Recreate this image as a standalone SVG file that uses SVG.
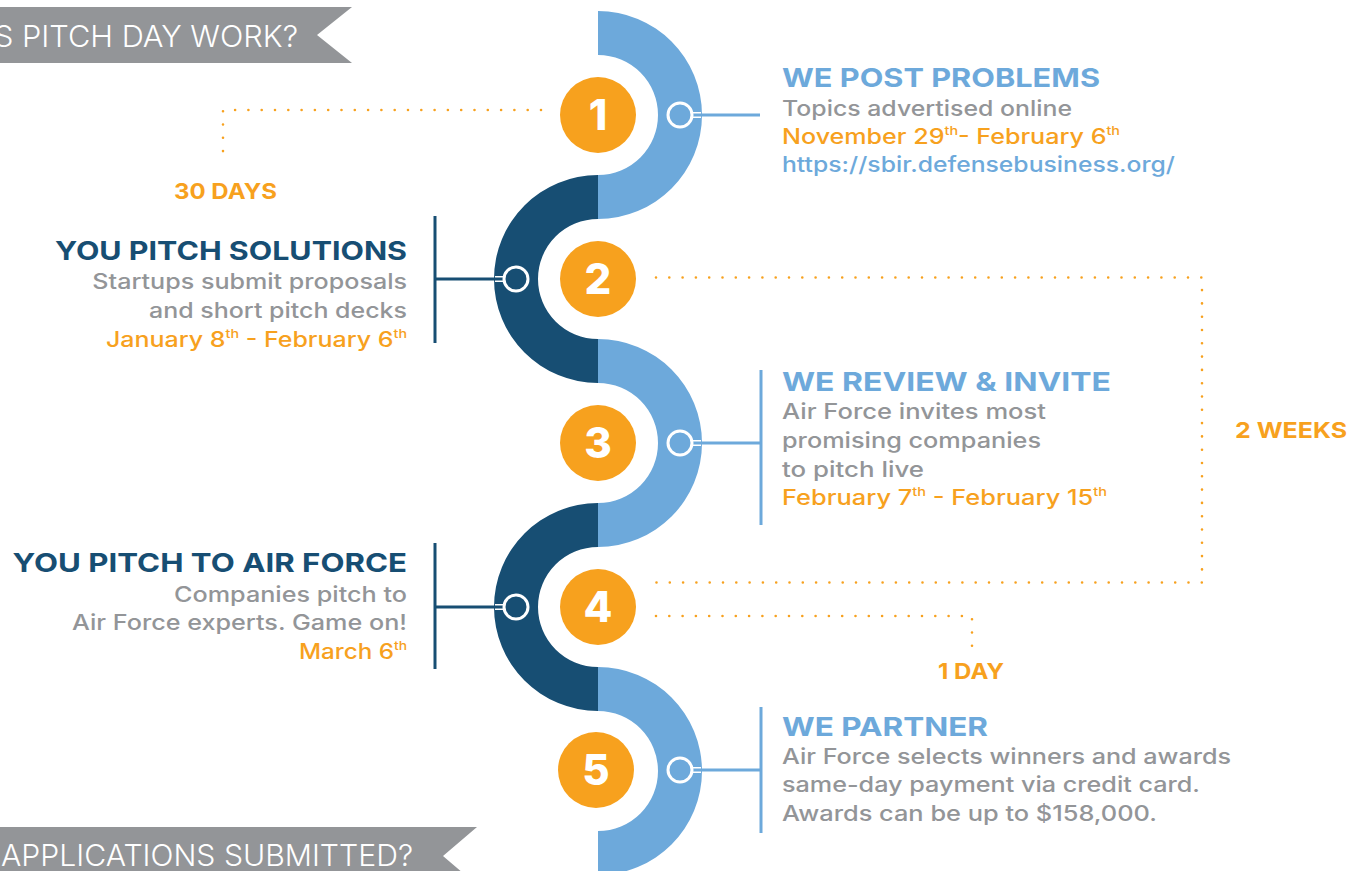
<svg xmlns="http://www.w3.org/2000/svg" width="1364" height="871" viewBox="0 0 1364 871">
<defs>
<style>
.bn{fill:#939598}
.bnt{font-family:Inter,"Liberation Sans",sans-serif;font-weight:300;font-size:30px;fill:#ffffff}
.lb{fill:#6da9db}
.db{fill:#174e73}
.num{fill:#f7a11e}
.numt{font-family:Inter,"Liberation Sans",sans-serif;font-weight:800;font-size:42px;fill:#ffffff;text-anchor:middle}
.ring-l{fill:#6da9db;stroke:#ffffff;stroke-width:3}
.ring-d{fill:#174e73;stroke:#ffffff;stroke-width:3}
.ttl{font-family:Inter,"Liberation Sans",sans-serif;font-weight:700;font-size:26px}
.bd{font-family:Inter,"Liberation Sans",sans-serif;font-weight:500;font-size:21px}
.gr{fill:#939598}
.or{fill:#f7a11e}
.tl{fill:#6da9db}
.td{fill:#174e73}
.end{text-anchor:end}
.lbl{font-family:Inter,"Liberation Sans",sans-serif;font-weight:700;font-size:22px;fill:#f7a11e}
.dot{fill:none;stroke:#f7a11e;stroke-width:2.6;stroke-linecap:round;stroke-dasharray:0 13.3}
.cl{stroke:#6da9db;stroke-width:3;fill:none}
.cd{stroke:#174e73;stroke-width:3;fill:none}
.cw{stroke:#ffffff;stroke-width:6;fill:none}
</style>
</defs>
<rect x="0" y="0" width="1364" height="871" fill="#ffffff"/>

<g id="banner-top">
<polygon class="bn" points="0,7 352,7 317,35 352,63 0,63"/>
<text class="bnt end" x="298" y="47" textLength="304" lengthAdjust="spacingAndGlyphs">S PITCH DAY WORK?</text>
</g>
<g id="banner-bottom">
<polygon class="bn" points="0,827 477,827 443,856 477,885 0,885"/>
<text class="bnt end" x="413" y="866" textLength="412" lengthAdjust="spacingAndGlyphs">APPLICATIONS SUBMITTED?</text>
</g>

<g id="serpentine">
<path class="lb" d="M598 11 A104 104 0 0 1 598 219 L598 175 A60 60 0 0 0 598 55 Z"/>
<path class="db" d="M598 175 A104 104 0 0 0 598 383 L598 339 A60 60 0 0 1 598 219 Z"/>
<path class="lb" d="M598 339 A104 104 0 0 1 598 547 L598 503 A60 60 0 0 0 598 383 Z"/>
<path class="db" d="M598 503 A104 104 0 0 0 598 711 L598 667 A60 60 0 0 1 598 547 Z"/>
<path class="lb" d="M598 667 A104 104 0 0 1 598 875 L598 831 A60 60 0 0 0 598 711 Z"/>
</g>

<g id="connectors">
<path class="dot" d="M541 110 H223 V164"/>
<path class="dot" d="M656 277.5 H1202 V582.5 H656"/>
<path class="dot" d="M656 616 H972 V647"/>
<line class="cw" x1="692" y1="115" x2="701" y2="115"/>
<line class="cl" x1="690" y1="115" x2="760" y2="115"/>
<line class="cw" x1="504" y1="279" x2="495" y2="279"/>
<line class="cd" x1="506" y1="279" x2="435" y2="279"/>
<line class="cd" x1="435" y1="216" x2="435" y2="343"/>
<line class="cw" x1="692" y1="443" x2="701" y2="443"/>
<line class="cl" x1="690" y1="443" x2="761" y2="443"/>
<line class="cl" x1="761" y1="370" x2="761" y2="525"/>
<line class="cw" x1="504" y1="607" x2="495" y2="607"/>
<line class="cd" x1="506" y1="607" x2="435" y2="607"/>
<line class="cd" x1="435" y1="543" x2="435" y2="669"/>
<line class="cw" x1="692" y1="770" x2="701" y2="770"/>
<line class="cl" x1="690" y1="770" x2="761" y2="770"/>
<line class="cl" x1="761" y1="707" x2="761" y2="833"/>
</g>

<g id="step1">
<circle class="num" cx="598" cy="115" r="38"/>
<text class="numt" x="598" y="130">1</text>
<circle class="ring-l" cx="680" cy="115" r="12"/>
<text class="ttl tl" x="782" y="86.7" textLength="318" lengthAdjust="spacingAndGlyphs">WE POST PROBLEMS</text>
<text class="bd gr" x="782" y="116" textLength="290" lengthAdjust="spacingAndGlyphs">Topics advertised online</text>
<text class="bd or" x="782" y="144.3" textLength="338" lengthAdjust="spacingAndGlyphs">November 29<tspan font-size="12" dy="-9">th</tspan><tspan dy="9">- February 6</tspan><tspan font-size="12" dy="-9">th</tspan></text>
<text class="bd tl" x="782" y="171.7" textLength="393" lengthAdjust="spacingAndGlyphs">https://sbir.defensebusiness.org/</text>
</g>

<g id="step2">
<circle class="num" cx="598" cy="279" r="38"/>
<text class="numt" x="598" y="294">2</text>
<circle class="ring-d" cx="516" cy="279" r="12"/>
<text class="ttl td end" x="407" y="260" font-size="27" textLength="352" lengthAdjust="spacingAndGlyphs">YOU PITCH SOLUTIONS</text>
<text class="bd gr end" x="407" y="289.3" textLength="314.7" lengthAdjust="spacingAndGlyphs">Startups submit proposals</text>
<text class="bd gr end" x="407" y="318.3" textLength="258" lengthAdjust="spacingAndGlyphs">and short pitch decks</text>
<text class="bd or end" x="407" y="346.7" textLength="301" lengthAdjust="spacingAndGlyphs">January 8<tspan font-size="12" dy="-9">th</tspan><tspan dy="9"> - February 6</tspan><tspan font-size="12" dy="-9">th</tspan></text>
</g>

<g id="step3">
<circle class="num" cx="598" cy="443" r="38"/>
<text class="numt" x="598" y="458">3</text>
<circle class="ring-l" cx="680" cy="443" r="12"/>
<text class="ttl tl" x="782" y="390.7" textLength="329" lengthAdjust="spacingAndGlyphs">WE REVIEW &amp; INVITE</text>
<text class="bd gr" x="782" y="419.3" textLength="264" lengthAdjust="spacingAndGlyphs">Air Force invites most</text>
<text class="bd gr" x="782" y="448" textLength="259" lengthAdjust="spacingAndGlyphs">promising companies</text>
<text class="bd gr" x="782" y="477" textLength="142" lengthAdjust="spacingAndGlyphs">to pitch live</text>
<text class="bd or" x="782" y="505.3" textLength="325" lengthAdjust="spacingAndGlyphs">February 7<tspan font-size="12" dy="-9">th</tspan><tspan dy="9"> - February 15</tspan><tspan font-size="12" dy="-9">th</tspan></text>
</g>

<g id="step4">
<circle class="num" cx="598" cy="607" r="38"/>
<text class="numt" x="598" y="622">4</text>
<circle class="ring-d" cx="516" cy="607" r="12"/>
<text class="ttl td end" x="407" y="572.3" font-size="27" textLength="394.5" lengthAdjust="spacingAndGlyphs">YOU PITCH TO AIR FORCE</text>
<text class="bd gr end" x="407" y="601.7" textLength="233" lengthAdjust="spacingAndGlyphs">Companies pitch to</text>
<text class="bd gr end" x="407" y="630" textLength="335" lengthAdjust="spacingAndGlyphs">Air Force experts. Game on!</text>
<text class="bd or end" x="407" y="659.3" textLength="108" lengthAdjust="spacingAndGlyphs">March 6<tspan font-size="12" dy="-9">th</tspan></text>
</g>

<g id="step5">
<circle class="num" cx="596" cy="770" r="38"/>
<text class="numt" x="596" y="785">5</text>
<circle class="ring-l" cx="680" cy="770" r="12"/>
<text class="ttl tl" x="782" y="735.7" textLength="206" lengthAdjust="spacingAndGlyphs">WE PARTNER</text>
<text class="bd gr" x="782" y="764" textLength="449" lengthAdjust="spacingAndGlyphs">Air Force selects winners and awards</text>
<text class="bd gr" x="782" y="792" textLength="418" lengthAdjust="spacingAndGlyphs">same-day payment via credit card.</text>
<text class="bd gr" x="782" y="820.7" textLength="375" lengthAdjust="spacingAndGlyphs">Awards can be up to $158,000.</text>
</g>

<g id="durations">
<text class="lbl" x="174" y="199.3" textLength="103" lengthAdjust="spacingAndGlyphs">30 DAYS</text>
<text class="lbl" x="1235" y="437.7" textLength="112" lengthAdjust="spacingAndGlyphs">2 WEEKS</text>
<text class="lbl" x="938" y="679" textLength="66" lengthAdjust="spacingAndGlyphs">1 DAY</text>
</g>
</svg>
